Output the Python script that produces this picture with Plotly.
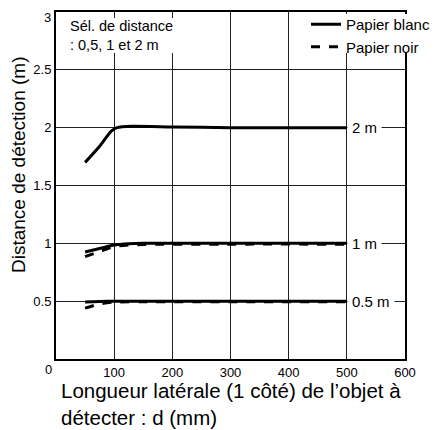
import plotly.graph_objects as go

# ---- data ----
x_blanc_2m = [50, 75, 95, 105, 130, 200, 300, 400, 500]
y_blanc_2m = [1.70, 1.84, 1.97, 2.0, 2.012, 2.006, 2.0, 2.0, 2.0]

x_blanc_1m = [50, 75, 100, 125, 150, 300, 500]
y_blanc_1m = [0.925, 0.955, 0.985, 0.996, 1.0, 1.0, 1.0]

x_noir_1m = [50, 75, 100, 125, 150, 300, 500]
y_noir_1m = [0.885, 0.93, 0.972, 0.985, 0.99, 0.993, 0.993]

x_blanc_05m = [50, 75, 100, 150, 300, 500]
y_blanc_05m = [0.493, 0.497, 0.5, 0.5, 0.5, 0.5]

x_noir_05m = [50, 75, 100, 150, 300, 500]
y_noir_05m = [0.44, 0.476, 0.492, 0.495, 0.495, 0.495]

range_labels = ["2 m", "1 m", "0.5 m"]
range_values = [2.0, 1.0, 0.5]

x_ticks = [100, 200, 300, 400, 500, 600]
y_ticks = [0.5, 1, 1.5, 2, 2.5]
y_top_label = "3"

FONT = "Liberation Sans, Arial, Helvetica, sans-serif"

fig = go.Figure()
LW = 3
SPL = dict(shape="spline", smoothing=0.6)
fig.add_trace(go.Scatter(x=x_blanc_2m, y=y_blanc_2m, mode="lines", name="Papier blanc",
                         legendgroup="b", line=dict(color="black", width=LW, **SPL)))
fig.add_trace(go.Scatter(x=x_blanc_1m, y=y_blanc_1m, mode="lines", name="Papier blanc",
                         legendgroup="b", showlegend=False,
                         line=dict(color="black", width=LW, **SPL)))
fig.add_trace(go.Scatter(x=x_blanc_05m, y=y_blanc_05m, mode="lines", name="Papier blanc",
                         legendgroup="b", showlegend=False,
                         line=dict(color="black", width=LW, **SPL)))
fig.add_trace(go.Scatter(x=x_noir_1m, y=y_noir_1m, mode="lines", name="Papier noir",
                         legendgroup="n", line=dict(color="black", width=LW, dash="dash", **SPL)))
fig.add_trace(go.Scatter(x=x_noir_05m, y=y_noir_05m, mode="lines", name="Papier noir",
                         legendgroup="n", showlegend=False,
                         line=dict(color="black", width=LW, dash="dash", **SPL)))

annotations = []
for lab, val in zip(range_labels, range_values):
    annotations.append(dict(x=500, y=val, xref="x", yref="y", text=lab, showarrow=False,
                            xanchor="left", yanchor="middle", bgcolor="white", borderpad=4,
                            font=dict(size=15, color="black", family=FONT)))

annotations.append(dict(x=24, y=2.952, xref="x", yref="y", text="Sél. de distance<br>: 0,5, 1 et 2 m",
                        showarrow=False, xanchor="left", yanchor="top", align="left",
                        bgcolor="white", borderpad=0, borderwidth=0,
                        font=dict(size=14.5, color="black", family=FONT)))

# "0" at the corner and the top y label
annotations.append(dict(x=-8/349, y=-10/347, xref="paper", yref="paper", text="0", showarrow=False,
                        xanchor="center", yanchor="middle", font=dict(size=13, color="black", family=FONT)))
annotations.append(dict(x=(53-56)/349, y=(359-17)/347, xref="paper", yref="paper", text=y_top_label,
                        showarrow=False, xanchor="right", yanchor="middle",
                        font=dict(size=13, color="black", family=FONT)))
# axis titles
annotations.append(dict(x=(18-56)/349, y=(359-165)/347, xref="paper", yref="paper",
                        text="Distance de détection (m)", textangle=-90, showarrow=False,
                        xanchor="center", yanchor="middle", font=dict(size=19, color="black", family=FONT)))
annotations.append(dict(x=(59-56)/349, y=(359-377)/347, xref="paper", yref="paper",
                        text="Longueur latérale (1 côté) de l’objet à<br>détecter : d (mm)",
                        showarrow=False, xanchor="left", yanchor="top", align="left",
                        font=dict(size=20.5, color="black", family=FONT)))

# white backing behind the legend (hides grid/border under it, like the reference)
shapes = [dict(type="rect", xref="paper", yref="paper", layer="above",
               x0=(297-56)/349, x1=1.3, y0=(359-53)/347, y1=(359-14)/347,
               fillcolor="white", line=dict(width=0))]

fig.update_layout(
    width=438, height=430,
    margin=dict(l=48, r=41, t=4, b=79, autoexpand=False),
    paper_bgcolor="white", plot_bgcolor="white",
    font=dict(family=FONT, color="black"),
    showlegend=True,
    legend=dict(x=(306-56)/349, y=(359-8)/347, xanchor="left", yanchor="top",
                bgcolor="rgba(0,0,0,0)", borderwidth=0, font=dict(size=15, color="black", family=FONT),
                tracegroupgap=0, itemwidth=30),
    annotations=annotations,
    shapes=shapes,
)
fig.update_xaxes(range=[0, 600], tickvals=x_ticks, ticktext=[str(v) for v in x_ticks],
                 showgrid=True, gridcolor="#222", gridwidth=1, zeroline=False, automargin=False,
                 showline=True, linecolor="black", linewidth=2, mirror=True,
                 ticks="", tickfont=dict(size=13, family=FONT, color="black"))
fig.update_yaxes(range=[0, 3], tickvals=y_ticks + [3], ticktext=[str(v) for v in y_ticks] + [""],
                 showgrid=True, gridcolor="#222", gridwidth=1, zeroline=False, automargin=False,
                 showline=True, linecolor="black", linewidth=2, mirror=True,
                 ticks="", tickfont=dict(size=13, family=FONT, color="black"))

fig.write_html("out.html")
